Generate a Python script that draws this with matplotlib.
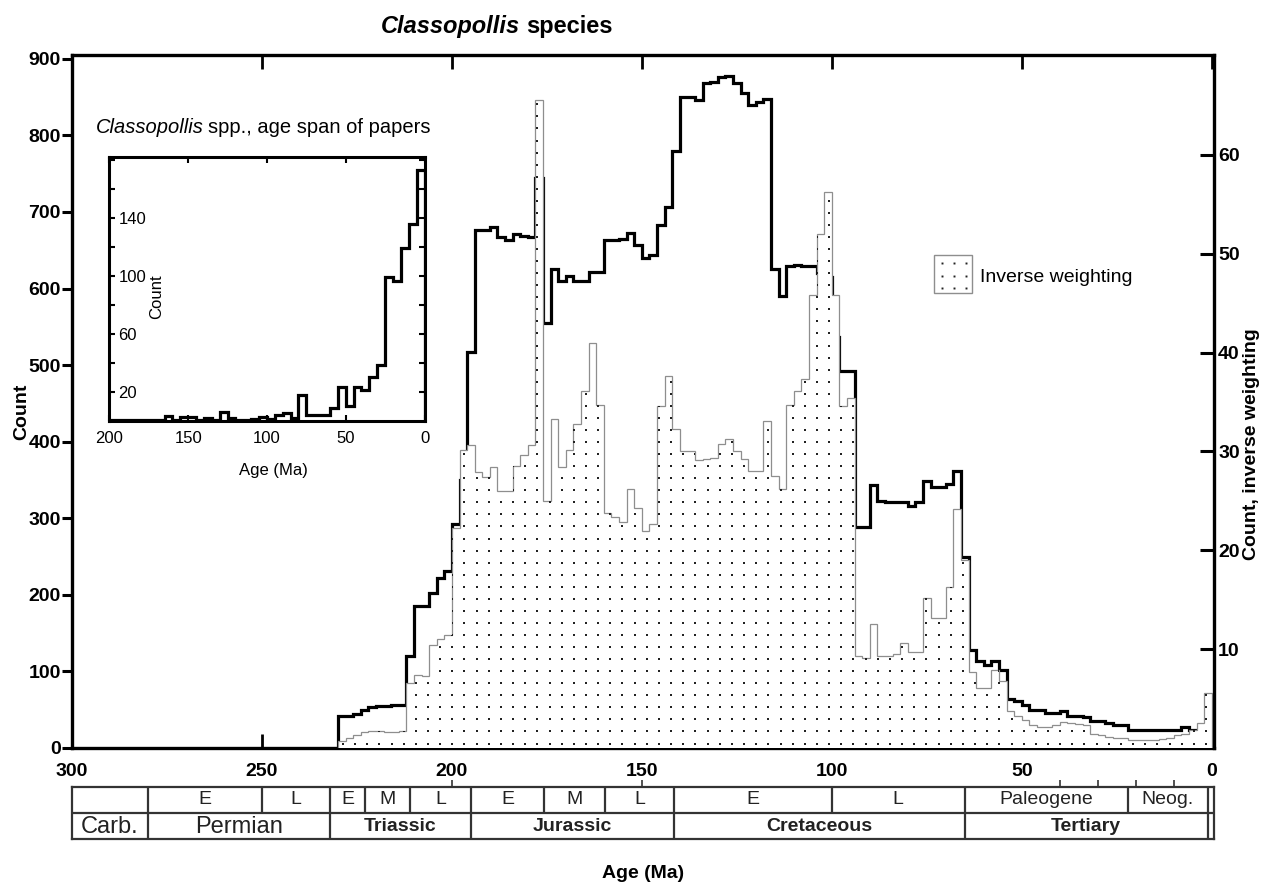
import numpy as np
import matplotlib
matplotlib.use("Agg")
import matplotlib.pyplot as plt
from matplotlib.patches import Rectangle
from matplotlib.lines import Line2D

plt.rcParams['font.family'] = ['Liberation Sans', 'DejaVu Sans']

# counts per 2 Ma bin, oldest (230-228 Ma) to youngest (6-4 Ma)
count_values = [42, 42, 45, 50, 54, 55, 55, 56, 56, 120,
                186, 186, 203, 222, 231, 293, 350, 517, 677, 677,
                681, 667, 663, 671, 668, 667, 745, 555, 625, 610,
                616, 610, 610, 622, 622, 663, 663, 665, 672, 657,
                640, 644, 683, 706, 779, 850, 850, 846, 868, 870,
                876, 877, 869, 856, 840, 843, 848, 625, 590, 629,
                631, 629, 629, 620, 615, 537, 492, 492, 289, 289,
                343, 322, 321, 321, 321, 316, 321, 349, 341, 341,
                345, 362, 250, 128, 114, 108, 114, 102, 64, 62,
                56, 50, 49, 46, 46, 48, 42, 42, 40, 35,
                35, 33, 30, 30, 24, 24, 24, 24, 24, 24,
                24, 27, 24]

# inverse weighting per 2 Ma bin, 230-228 Ma to 2-0 Ma (right axis)
inverse_values = [0.7, 1.0, 1.35, 1.6, 1.7, 1.7, 1.6, 1.6, 1.7, 6.6,
                  7.4, 7.3, 10.4, 11.0, 11.4, 22.3, 30.1, 30.6, 27.9, 27.4,
                  28.4, 26.0, 26.0, 28.5, 29.6, 30.6, 65.5, 25.0, 33.3, 28.4,
                  30.1, 32.8, 36.1, 41.0, 34.7, 23.8, 23.4, 22.9, 26.2, 24.3,
                  22.0, 22.7, 34.6, 37.6, 32.3, 30.0, 30.0, 29.1, 29.2, 29.3,
                  30.8, 31.3, 30.0, 29.2, 28.0, 28.0, 33.1, 27.5, 26.2, 34.7,
                  36.1, 37.3, 45.8, 52.0, 56.2, 45.8, 34.6, 35.4, 9.3, 9.1,
                  12.5, 9.3, 9.3, 9.5, 10.6, 9.7, 9.7, 15.2, 13.1, 13.1,
                  16.3, 24.2, 19.0, 7.7, 6.1, 6.1, 7.9, 6.8, 3.7, 3.2,
                  2.8, 2.3, 2.1, 2.1, 2.3, 2.6, 2.5, 2.4, 2.3, 1.4,
                  1.35, 1.1, 1.0, 1.0, 0.85, 0.85, 0.85, 0.85, 0.9, 1.0,
                  1.35, 1.4, 1.85, 2.5, 5.6]

# inset: counts per 5 Ma bin, 200-195 Ma to 5-0 Ma
inset_values = [0.5, 0.5, 0.5, 0.5, 0.5, 0.5, 0.5, 3.6, 1, 2.5,
                2.5, 1, 2.3, 1, 6.3, 2.3, 1, 1, 1.5, 2.7,
                1.5, 4, 5.6, 2.3, 17.7, 4, 4, 4, 9, 23.4,
                10.4, 23.4, 21.5, 30.3, 38.3, 99.5, 96.6, 119, 136, 173]

count_edges = np.arange(230, 3, -2)
inverse_edges = np.arange(230, -1, -2)
inset_edges = np.arange(200, -1, -5)

# time scale table
stage_bounds = [280, 250, 232, 223, 211, 195, 175.7, 159.8, 141.5, 100, 65, 22, 1.1]
stage_labels = ['E', 'L', 'E', 'M', 'L', 'E', 'M', 'L', 'E', 'L', 'Paleogene', 'Neog.']
period_bounds = [300, 280, 232, 195, 141.5, 65, 1.1]
period_labels = ['Carb.', 'Permian', 'Triassic', 'Jurassic', 'Cretaceous', 'Tertiary']
period_bold = [False, False, True, True, True, True]

W, H = 1262, 884


def box(x0, y0, x1, y1):
    return [x0 / W, 1 - y1 / H, (x1 - x0) / W, (y1 - y0) / H]


fig = plt.figure(figsize=(W / 100, H / 100), dpi=100)

ax = fig.add_axes(box(72, 55, 1214, 748))
ax2 = ax.twinx()

ax.stairs(np.array(count_values)[::-1], count_edges[::-1], color='black', lw=2.3)
step = ax2.stairs(np.array(inverse_values)[::-1], inverse_edges[::-1], fill=True,
                  facecolor='white', edgecolor='#8e8e8e', lw=0.9)
# dotted texture of the filled histogram
gx, gy = np.meshgrid(np.arange(1.5, 230, 3.2), np.arange(0.45, 70, 1.22))
dots = ax2.scatter(gx.ravel(), gy.ravel(), s=1.6, marker='s', color='#222222',
                   linewidths=0, zorder=3)
dots.set_clip_path(step)

ax.set_xlim(300, -0.6)
ax.set_ylim(0, 905)
ax2.set_ylim(0, 70.1)

xt = list(range(300, -1, -50))
ax.set_xticks(xt, labels=[str(t) for t in xt], fontweight='bold', fontsize=14)
yt = list(range(0, 901, 100))
ax.set_yticks(yt, labels=[str(t) for t in yt], fontweight='bold', fontsize=14)
rt = list(range(10, 61, 10))
ax2.set_yticks(rt, labels=[str(t) for t in rt], fontweight='bold', fontsize=14)

ax.tick_params(axis='x', direction='in', top=True, length=10, width=2, pad=11)
ax.tick_params(axis='y', direction='out', length=7, width=2.2, pad=1)
ax2.tick_params(axis='y', direction='in', length=10, width=2.2, pad=3)

for s in ax.spines.values():
    s.set_linewidth(2.4)
ax.spines['right'].set_visible(False)
for name in ['left', 'top', 'bottom']:
    ax2.spines[name].set_visible(False)
ax2.spines['right'].set_linewidth(2.4)

# titles and labels
ty = 1 - 33 / H
fig.text(520 / W, ty, 'Classopollis', fontsize=17, fontweight='bold', style='italic',
         ha='right', va='baseline')
fig.text(526 / W, ty, 'species', fontsize=17, fontweight='bold', ha='left', va='baseline')
fig.text(22 / W, 1 - 412 / H, 'Count', rotation=90, fontsize=14, fontweight='bold',
         ha='center', va='center')
fig.text(1251 / W, 1 - 444 / H, 'Count, inverse weighting', rotation=90, fontsize=14,
         fontweight='bold', ha='center', va='center')
fig.text(643 / W, 1 - 873 / H, 'Age (Ma)', fontsize=14, fontweight='bold',
         ha='center', va='center')

# legend
lx0, ly0, lx1, ly1 = 933.5, 255, 971.6, 293
fig.add_artist(Rectangle((lx0 / W, 1 - ly1 / H), (lx1 - lx0) / W, (ly1 - ly0) / H,
                         transform=fig.transFigure, facecolor='white',
                         edgecolor='#8e8e8e', lw=1))
fr = np.array([0.22, 0.54, 0.86])
lxs, lys = np.meshgrid(lx0 + fr * (lx1 - lx0), ly0 + fr * (ly1 - ly0))
fig.add_artist(Line2D(lxs.ravel() / W, 1 - lys.ravel() / H, transform=fig.transFigure,
                      ls='none', marker='s', ms=1.4, color='#222222', mew=0))
fig.text(980 / W, 1 - 278 / H, 'Inverse weighting', fontsize=14, ha='left', va='center')

# inset
ax_in = fig.add_axes(box(109.4, 157, 424.5, 421))
ax_in.stairs(np.array(inset_values)[::-1], inset_edges[::-1], color='black', lw=2.3)
ax_in.set_xlim(200, 0)
ax_in.set_ylim(0, 182)
ixt = list(range(200, -1, -50))
ax_in.set_xticks(ixt, labels=[str(t) for t in ixt], fontsize=12)
iyt = list(range(20, 181, 20))
ax_in.set_yticks(iyt, labels=[str(t) if t in (20, 60, 100, 140) else '' for t in iyt],
                 fontsize=12)
ax_in.tick_params(axis='x', direction='in', top=True, length=4, width=1.5, pad=7)
ax_in.tick_params(axis='y', direction='in', right=True, length=4, width=1.5, pad=-6.5)
for lab in ax_in.get_yticklabels():
    lab.set_horizontalalignment('left')
for s in ax_in.spines.values():
    s.set_linewidth(2.2)
fig.text(157 / W, 1 - 297 / H, 'Count', rotation=90, fontsize=12, ha='center', va='center')
fig.text(273 / W, 1 - 470 / H, 'Age (Ma)', fontsize=12, ha='center', va='center')
fig.text(204 / W, 1 - 133 / H, 'Classopollis', fontsize=14.5, style='italic',
         ha='right', va='baseline')
fig.text(208 / W, 1 - 133 / H, 'spp., age span of papers', fontsize=14.5,
         ha='left', va='baseline')

# geological time scale below the axis
ax_t = fig.add_axes(box(72, 786.7, 1214, 839.3))
ax_t.set_xlim(300, -0.6)
ax_t.set_ylim(0, 2)
tcol = '#333333'
for s in ax_t.spines.values():
    s.set_linewidth(1.6)
    s.set_color(tcol)
ax_t.axhline(1, color=tcol, lw=1.6)
ax_t.vlines(stage_bounds, 1, 2, color=tcol, lw=1.6)
ax_t.vlines(period_bounds[1:], 0, 1, color=tcol, lw=1.6)
for a, b, lab in zip(stage_bounds[:-1], stage_bounds[1:], stage_labels):
    ax_t.text((a + b) / 2, 1.5, lab, fontsize=14, ha='center', va='center', color='#222222')
for a, b, lab, bold in zip(period_bounds[:-1], period_bounds[1:], period_labels, period_bold):
    if bold:
        ax_t.text((a + b) / 2, 0.48, lab, fontsize=14, fontweight='bold',
                  ha='center', va='center', color='#222222')
    else:
        ax_t.text((a + b) / 2, 0.48, lab, fontsize=17, ha='center', va='center',
                  color='#222222')
ax_t.set_xticks([200, 150, 40, 30, 20, 10])
ax_t.set_yticks([])
ax_t.tick_params(axis='x', bottom=False, top=True, labelbottom=False, direction='out',
                 length=5, width=1.2, color=tcol)

fig.savefig('out.png', dpi=100)
